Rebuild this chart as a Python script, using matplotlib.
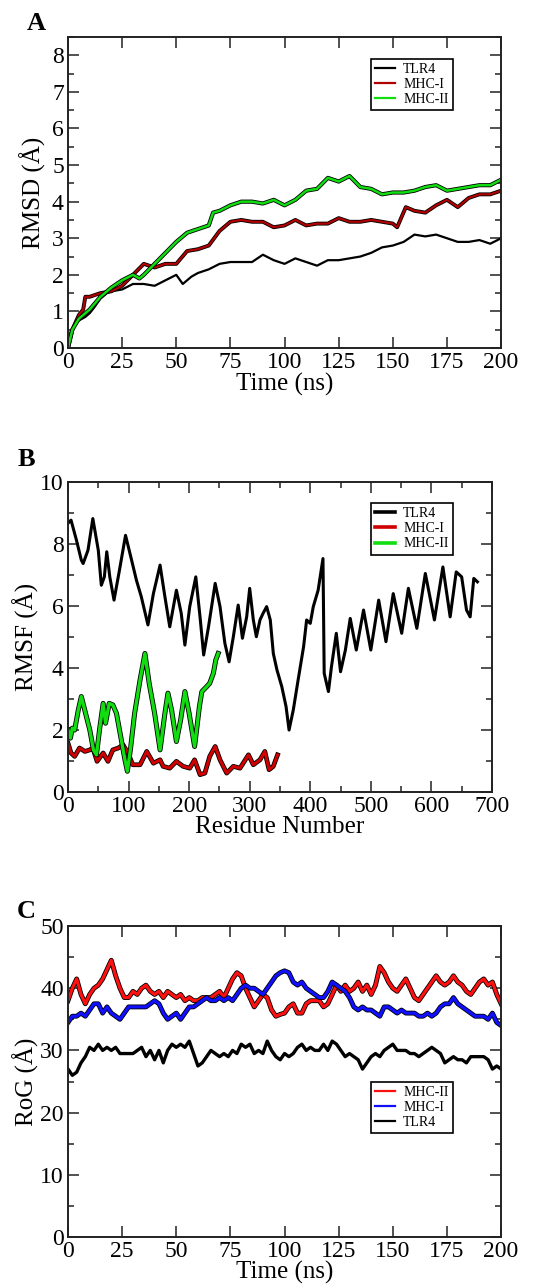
"""RMSD / RMSF / RoG panels for TLR4, MHC-I and MHC-II complexes."""

import matplotlib

matplotlib.use("Agg")
from matplotlib import pyplot as plt
from matplotlib import patheffects as pe
from matplotlib.ticker import MultipleLocator

# ---- panel A: RMSD vs time (ns) ----
rmsd_tlr4_t = [0, 1, 3, 5, 8, 10, 12, 15, 18, 20, 25, 30, 35, 40, 45, 50, 53, 57, 60, 65, 70, 75, 80,
               85, 90, 95, 100, 105, 110, 115, 120, 125, 130, 135, 140, 145, 150, 155, 160, 165, 170,
               175, 180, 185, 190, 195, 200]
rmsd_tlr4 = [0, 0.4, 0.65, 0.75, 0.85, 0.95, 1.1, 1.35, 1.5, 1.55, 1.6, 1.75, 1.75, 1.7, 1.85, 2.0,
             1.75, 1.95, 2.05, 2.15, 2.3, 2.35, 2.35, 2.35, 2.55, 2.4, 2.3, 2.45, 2.35, 2.25, 2.4, 2.4,
             2.45, 2.5, 2.6, 2.75, 2.8, 2.9, 3.1, 3.05, 3.1, 3.0, 2.9, 2.9, 2.95, 2.85, 3.0]
rmsd_mhc1_t = [0, 2, 5, 7, 8, 10, 15, 20, 25, 30, 35, 40, 45, 50, 55, 60, 65, 70, 75, 80, 85, 90, 95,
               100, 105, 110, 115, 120, 125, 130, 135, 140, 145, 150, 152, 156, 160, 165, 170, 175,
               180, 185, 190, 195, 200]
rmsd_mhc1 = [0, 0.5, 0.9, 1.05, 1.4, 1.4, 1.5, 1.55, 1.7, 2.0, 2.3, 2.2, 2.3, 2.3, 2.65, 2.7, 2.8,
             3.2, 3.45, 3.5, 3.45, 3.45, 3.3, 3.35, 3.5, 3.35, 3.4, 3.4, 3.55, 3.45, 3.45, 3.5, 3.45,
             3.4, 3.3, 3.85, 3.75, 3.7, 3.9, 4.05, 3.85, 4.1, 4.2, 4.2, 4.3]
rmsd_mhc2_t = [0, 2, 5, 8, 10, 15, 20, 25, 30, 33, 35, 40, 45, 50, 55, 60, 65, 67, 70, 75, 80, 85, 90,
               95, 100, 105, 110, 115, 120, 125, 130, 135, 140, 145, 150, 155, 160, 165, 170, 175,
               180, 185, 190, 195, 200]
rmsd_mhc2 = [0, 0.5, 0.8, 0.95, 1.05, 1.4, 1.65, 1.85, 2.0, 1.9, 2.0, 2.3, 2.6, 2.9, 3.15, 3.25,
             3.35, 3.7, 3.75, 3.9, 4.0, 4.0, 3.95, 4.05, 3.9, 4.05, 4.3, 4.35, 4.65, 4.55, 4.7, 4.4,
             4.35, 4.2, 4.25, 4.25, 4.3, 4.4, 4.45, 4.3, 4.35, 4.4, 4.45, 4.45, 4.6]

# ---- panel B: RMSF vs residue number ----
rmsf_tlr4_r = [1, 5, 14, 22, 25, 33, 41, 50, 55, 60, 64, 69, 76, 85, 95, 105, 113, 121, 132, 141,
               152, 160, 168, 179, 187, 193, 201, 211, 218, 224, 232, 243, 251, 259, 266, 273, 281,
               288, 295, 300, 306, 311, 317, 322, 328, 334, 339, 345, 353, 360, 365, 372, 380, 389,
               394, 400, 405, 413, 421, 423, 430, 435, 443, 450, 458, 466, 476, 488, 500, 513, 525,
               537, 551, 562, 576, 590, 605, 619, 631, 641, 650, 658, 664, 670, 676]
rmsf_tlr4 = [8.69, 8.77, 8.12, 7.48, 7.37, 7.8, 8.82, 7.8, 6.67, 6.94, 7.75, 6.94, 6.19, 7.16, 8.28,
             7.48, 6.83, 6.3, 5.39, 6.4, 7.32, 6.3, 5.33, 6.51, 5.76, 4.74, 5.98, 6.94, 5.65, 4.42,
             5.33, 6.73, 5.98, 4.8, 4.2, 5.01, 6.03, 4.96, 5.65, 6.57, 5.55, 5.01, 5.55, 5.76, 5.98,
             5.55, 4.47, 3.94, 3.4, 2.76, 2.0, 2.65, 3.62, 4.69, 5.55, 5.44, 5.98, 6.51, 7.53, 3.83,
             3.24, 4.04, 5.12, 3.88, 4.58, 5.6, 4.58, 5.87, 4.58, 6.19, 4.85, 6.4, 5.12, 6.57, 5.28,
             7.05, 5.55, 7.26, 5.65, 7.1, 6.94, 5.87, 5.65, 6.89, 6.78]
rmsf_mhc1_r = [0, 5, 11, 19, 28, 36, 41, 48, 58, 66, 74, 83, 91, 99, 107, 119, 130, 141, 152, 157,
               168, 179, 190, 201, 209, 218, 226, 234, 243, 251, 262, 273, 284, 298, 306, 317, 325,
               332, 339, 346]
rmsf_mhc1 = [1.58, 1.26, 1.15, 1.42, 1.31, 1.36, 1.42, 0.99, 1.26, 0.99, 1.36, 1.42, 1.52, 1.26,
             0.88, 0.88, 1.31, 0.93, 1.04, 0.83, 0.77, 0.99, 0.83, 0.77, 1.04, 0.56, 0.61, 1.15, 1.47,
             1.04, 0.61, 0.83, 0.77, 1.2, 0.88, 1.04, 1.31, 0.72, 0.83, 1.2]
rmsf_mhc2_r = [0, 4, 7, 11, 17, 22, 29, 36, 42, 47, 52, 58, 62, 68, 74, 80, 87, 94, 98, 103, 110,
               119, 127, 134, 143, 152, 160, 165, 171, 179, 186, 193, 200, 209, 217, 221, 229, 234,
               240, 244, 248]
rmsf_mhc2 = [2.0, 1.74, 2.06, 2.0, 2.65, 3.08, 2.54, 2.0, 1.36, 1.2, 2.0, 2.86, 2.22, 2.86, 2.81,
             2.54, 1.79, 1.04, 0.67, 1.36, 2.54, 3.62, 4.47, 3.51, 2.54, 1.36, 2.54, 3.19, 2.65, 1.63,
             2.33, 3.24, 2.54, 1.47, 2.76, 3.24, 3.4, 3.51, 3.83, 4.26, 4.47]

# ---- panel C: radius of gyration vs time (ns), sampled every 2 ns ----
rog_t = list(range(0, 201, 2))
rog_mhc2 = [38, 40, 41.5, 39, 37.5, 39, 40, 40.5, 41.5, 43, 44.5, 42, 40, 38.5, 38.5, 39.5, 39, 40,
            40.5, 39.5, 39, 39.5, 38.5, 39.5, 39, 38.5, 39, 38, 38.5, 38, 38, 38.5, 38.5, 38.5, 39,
            39.5, 38.5, 40, 41.5, 42.5, 42, 40, 38.5, 37, 38, 39, 38.5, 36.5, 35.5, 35.8, 36, 37, 37.5,
            36, 36, 37.5, 38, 38, 38, 37, 37.5, 39, 40.5, 39.5, 40.5, 39.5, 40, 41, 39.5, 40.5, 39,
            40.5, 43.5, 42.5, 41, 40, 39.5, 40.5, 41.5, 40, 38.5, 38, 39, 40, 41, 42, 41, 40.5, 41, 42,
            41, 40.5, 39.5, 39, 40, 41, 41.5, 40.5, 41, 39, 37.5]
rog_mhc1 = [34.5, 35.5, 35.5, 36, 35.5, 36.5, 37.5, 37.5, 36, 37, 36, 35.5, 35, 36, 37, 37, 37, 37,
            37, 37.5, 38, 37.5, 36, 35, 35.5, 36, 35, 36, 37, 37, 37.5, 38, 38.5, 38, 38, 38.5, 38,
            38.5, 38, 39, 40, 40.5, 40, 40, 39.5, 39, 40, 41, 42, 42.5, 42.8, 42.5, 41, 40.5, 41, 40,
            39.5, 39, 38.5, 38.5, 39.5, 41, 40.5, 40, 39.5, 38.5, 37, 36.5, 37, 36.5, 36.5, 36, 35.5,
            37, 37, 36.5, 36, 36.5, 36, 36, 36, 35.5, 35.5, 36, 35.5, 36, 37, 37.5, 37.5, 38.5, 37.5,
            37, 36.5, 36, 35.5, 35.5, 35.5, 35, 36, 34.5, 34]
rog_tlr4 = [27, 26, 26.5, 28, 29, 30.5, 30, 31, 30, 30.5, 30, 30.5, 29.5, 29.5, 29.5, 29.5, 30, 30.5,
            29, 30, 28.5, 30, 28, 30, 31, 30.5, 31, 30.5, 31.5, 29.5, 27.5, 28, 29, 30, 29.5, 29,
            29.5, 29, 30, 29.5, 31, 30.5, 31, 29.5, 30, 29.5, 31.5, 30, 29, 28.5, 29.5, 29, 29.5, 30.5,
            31, 30, 30.5, 30, 30, 31, 30, 31.5, 31, 30, 29, 29.5, 29, 28.5, 27, 28, 29, 29.5, 29, 30,
            30.5, 31, 30, 30, 30, 29.5, 29.5, 29, 29.5, 30, 30.5, 30, 29.5, 28, 28.5, 29, 28.5, 28.5,
            28, 29, 29, 29, 29, 28.5, 27, 27.5, 27]

SERIF = ["Liberation Serif", "DejaVu Serif"]
plt.rcParams["font.family"] = SERIF


def outlined(width):
    # xmgrace-style traces look like a coloured line with a dark rim
    return [pe.Stroke(linewidth=width + 1.2, foreground="black"), pe.Normal()]


def style_axes(ax, xmajor, xminor, ymajor, yminor):
    ax.xaxis.set_major_locator(MultipleLocator(xmajor))
    ax.yaxis.set_major_locator(MultipleLocator(ymajor))
    if xminor:
        ax.xaxis.set_minor_locator(MultipleLocator(xminor))
    if yminor:
        ax.yaxis.set_minor_locator(MultipleLocator(yminor))
    ax.tick_params(which="both", direction="in", top=True, right=True, labelsize=17, pad=3,
                   color="#333333")
    ax.tick_params(which="major", length=8, width=1.2)
    ax.tick_params(which="minor", length=4.5, width=1.2)
    for spine in ax.spines.values():
        spine.set_linewidth(1.4)
        spine.set_color("#222222")


def add_legend(ax, x, y, lw):
    leg = ax.legend(loc="upper left", bbox_to_anchor=(x, y), fontsize=10, frameon=True,
                    fancybox=False, framealpha=1, edgecolor="black", handlelength=1.45,
                    handletextpad=0.55, borderpad=0.3, labelspacing=0.15, borderaxespad=0)
    leg.get_frame().set_linewidth(1.2)
    for line in leg.get_lines():
        line.set_linewidth(lw)
        line.set_path_effects([])
    return leg


fig = plt.figure(figsize=(5.38, 12.86), dpi=100)

# Panel A
ax_a = fig.add_axes([0.1264, 0.7294, 0.805, 0.2418])
ax_a.plot(rmsd_tlr4_t, rmsd_tlr4, color="black", lw=1.6, label="TLR4")
ax_a.plot(rmsd_mhc1_t, rmsd_mhc1, color="#b00000", lw=1.6, label="MHC-I",
          path_effects=outlined(1.6))
ax_a.plot(rmsd_mhc2_t, rmsd_mhc2, color="#11dd11", lw=1.8, label="MHC-II",
          path_effects=outlined(1.8))
ax_a.set_xlim(0, 200)
ax_a.set_ylim(0, 8.5)
style_axes(ax_a, 25, None, 1, 0.5)
ax_a.set_xlabel("Time (ns)", fontsize=18, labelpad=0)
ax_a.set_ylabel("RMSD (Å)", fontsize=18, labelpad=4)
add_legend(ax_a, 0.70, 0.93, 1.6)
fig.text(27 / 538, 1 - 24 / 1286, "A", fontsize=19, fontweight="bold", va="center", ha="left")

# Panel B
ax_b = fig.add_axes([0.1264, 0.3841, 0.788, 0.2411])
ax_b.plot(rmsf_tlr4_r, rmsf_tlr4, color="black", lw=2.2, label="TLR4")
ax_b.plot(rmsf_mhc1_r, rmsf_mhc1, color="#d00000", lw=2.2, label="MHC-I",
          path_effects=outlined(2.2))
ax_b.plot(rmsf_mhc2_r, rmsf_mhc2, color="#11dd11", lw=2.4, label="MHC-II",
          path_effects=outlined(2.4))
ax_b.set_xlim(0, 700)
ax_b.set_ylim(0, 10)
style_axes(ax_b, 100, 50, 2, 1)
ax_b.set_xlabel("Residue Number", fontsize=18, labelpad=-1)
ax_b.set_ylabel("RMSF (Å)", fontsize=18, labelpad=1)
add_legend(ax_b, 0.715, 0.932, 2.6)
fig.text(18 / 538, 1 - 459 / 1286, "B", fontsize=19, fontweight="bold", va="center", ha="left")

# Panel C
ax_c = fig.add_axes([0.1264, 0.0381, 0.805, 0.2418])
ax_c.plot(rog_t, rog_mhc2, color="#ff1010", lw=2.3, label="MHC-II", path_effects=outlined(2.3))
ax_c.plot(rog_t, rog_mhc1, color="#1010ff", lw=2.3, label="MHC-I", path_effects=outlined(2.3))
ax_c.plot(rog_t, rog_tlr4, color="black", lw=2.4, label="TLR4")
ax_c.set_xlim(0, 200)
ax_c.set_ylim(0, 50)
style_axes(ax_c, 25, None, 10, 5)
ax_c.set_xlabel("Time (ns)", fontsize=18, labelpad=-1)
ax_c.set_ylabel("RoG (Å)", fontsize=18, labelpad=1)
add_legend(ax_c, 0.70, 0.50, 1.6)
fig.text(17 / 538, 1 - 911 / 1286, "C", fontsize=19, fontweight="bold", va="center", ha="left")

fig.savefig("out.png", dpi=100)
plt.close(fig)
